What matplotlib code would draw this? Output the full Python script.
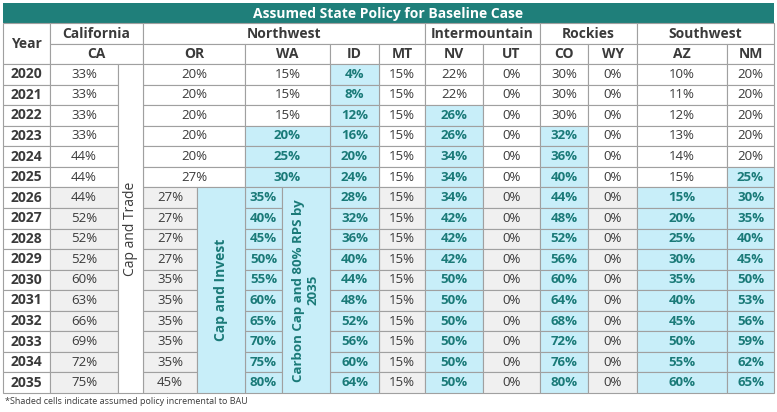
import matplotlib
matplotlib.use("Agg")
import matplotlib.pyplot as plt
from matplotlib.patches import Rectangle

plt.rcParams['font.family'] = ['Open Sans', 'DejaVu Sans']

title = "Assumed State Policy for Baseline Case"
years = list(range(2020, 2036))
regions = [("California", 50, 143), ("Northwest", 143, 425), ("Intermountain", 425, 540),
           ("Rockies", 540, 637), ("Southwest", 637, 774)]
CA = [33,33,33,33,44,44,44,52,52,52,60,63,66,69,72,75]
OR = [20,20,20,20,20,27,27,27,27,27,35,35,35,35,35,45]
WA = [15,15,15,20,25,30,35,40,45,50,55,60,65,70,75,80]
ID = [4,8,12,16,20,24,28,32,36,40,44,48,52,56,60,64]
MT = [15]*16
NV = [22,22,26,26,34,34,34,42,42,42,50,50,50,50,50,50]
UT = [0]*16
CO = [30,30,30,32,36,40,44,48,52,56,60,64,68,72,76,80]
WY = [0]*16
AZ = [10,11,12,13,14,15,15,20,25,30,35,40,45,50,55,60]
NM = [20,20,20,20,20,25,30,35,40,45,50,53,56,59,62,65]
NEVER = 9999
shade_start = {"CA": NEVER, "OR": NEVER, "WA": 2023, "ID": 2020, "MT": NEVER, "NV": 2022,
               "UT": NEVER, "CO": 2023, "WY": NEVER, "AZ": 2026, "NM": 2025}
footnote = "*Shaded cells indicate assumed policy incremental to BAU"

TEAL = "#1f7f7a"; BLUE = "#c8eef9"; TXT = "#3a3a3a"; TTXT = "#1a7a78"; GRID = "#a0a0a0"; GREY = "#f0f0f0"

fig = plt.figure(figsize=(7.77, 4.12), dpi=100)
ax = fig.add_axes([0, 0, 1, 1])
ax.set_xlim(0, 777); ax.set_ylim(412, 0); ax.axis('off')

def cell(x0, x1, y0, y1, fc="white", text=None, color=TXT, bold=False, rot=0, size=9.5):
    ax.add_patch(Rectangle((x0, y0), x1 - x0, y1 - y0, fc=fc, ec=GRID, lw=0.8))
    if text is not None:
        ax.text((x0 + x1) / 2, (y0 + y1) / 2, text, ha="center", va="center",
                color=color, fontsize=size, fontweight="bold" if bold else "normal", rotation=rot)

ax.add_patch(Rectangle((3, 3), 771, 20, fc=TEAL, ec="none"))
ax.text(388, 13.5, title, ha="center", va="center", color="white", fontsize=10, fontweight="bold")

y_reg, y_st, y_d = 23, 44, 64
rh = (393 - 64) / 16
cell(3, 50, y_reg, y_d, text="Year", bold=True, size=10)
for name, x0, x1 in regions:
    cell(x0, x1, y_reg, y_st, text=name, bold=True, size=10)
states = [("CA", 50, 143), ("OR", 143, 245), ("WA", 245, 330), ("ID", 330, 379), ("MT", 379, 425),
          ("NV", 425, 483), ("UT", 483, 540), ("CO", 540, 588), ("WY", 588, 637), ("AZ", 637, 727), ("NM", 727, 774)]
for s, x0, x1 in states:
    cell(x0, x1, y_st, y_d, text=s, bold=True, size=10)

data = {"CA": CA, "OR": OR, "WA": WA, "ID": ID, "MT": MT, "NV": NV, "UT": UT,
        "CO": CO, "WY": WY, "AZ": AZ, "NM": NM}
cols = {"CA": (50, 118), "MT": (379, 425), "ID": (330, 379), "NV": (425, 483), "UT": (483, 540),
        "CO": (540, 588), "WY": (588, 637), "AZ": (637, 727), "NM": (727, 774)}
for i, yr in enumerate(years):
    y0 = y_d + i * rh; y1 = y0 + rh
    late = yr >= 2026
    cell(3, 50, y0, y1, text=str(yr), bold=True, size=10)
    c = dict(cols)
    if late:
        c["OR"] = (143, 197); c["WA"] = (245, 282)
    else:
        c["OR"] = (143, 245); c["WA"] = (245, 330)
    for s, (x0, x1) in c.items():
        sh = yr >= shade_start[s]
        fc = BLUE if sh else (GREY if late else "white")
        cell(x0, x1, y0, y1, fc=fc, text=f"{data[s][i]}%", color=TTXT if sh else TXT, bold=sh)

y_end = y_d + 16 * rh
cell(118, 143, y_d, y_end, text="Cap and Trade", rot=90, size=10)
y26 = y_d + 6 * rh
cell(197, 245, y26, y_end, fc=BLUE, text="Cap and Invest", color=TTXT, bold=True, rot=90, size=10)
cell(282, 330, y26, y_end, fc=BLUE, text="Carbon Cap and 80% RPS by\n2035", color=TTXT, bold=True,
     rot=90, size=9.5)

ax.text(5, 401, footnote, ha="left", va="center", color=TXT, fontsize=6.5)
fig.savefig("out.png", dpi=100)
